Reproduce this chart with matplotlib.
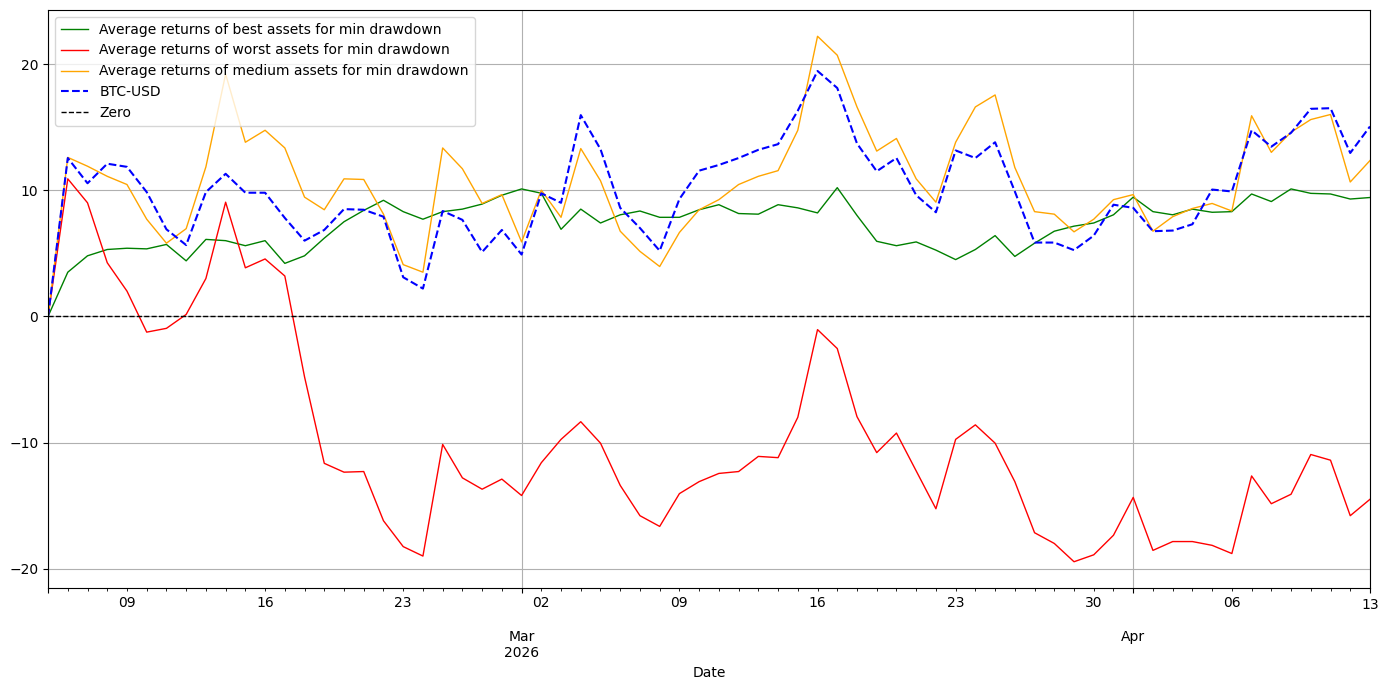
import numpy as np
import pandas as pd
from matplotlib import pyplot as plt

dates = pd.date_range("2026-02-05", "2026-04-13", freq="D", name="Date")

best = [0.0, 3.5, 4.8, 5.3, 5.4, 5.35, 5.7, 4.4, 6.1, 6.0, 5.6, 6.0,
        4.2, 4.8, 6.2, 7.5, 8.4, 9.2, 8.3, 7.7, 8.3, 8.5, 8.9, 9.6,
        10.1, 9.76, 6.9, 8.5, 7.4, 8.05, 8.35, 7.85, 7.85, 8.45, 8.85, 8.15,
        8.1, 8.85, 8.6, 8.2, 10.2, 8.0, 5.95, 5.6, 5.9, 5.25, 4.5, 5.3,
        6.4, 4.75, 5.8, 6.75, 7.15, 7.4, 8.05, 9.45, 8.3, 8.05, 8.5, 8.25,
        8.3, 9.7, 9.1, 10.1, 9.75, 9.7, 9.3, 9.42]

worst = [0.0, 10.9, 9.0, 4.25, 2.0, -1.25, -0.95, 0.15, 3.0, 9.05, 3.85, 4.55,
         3.2, -4.8, -11.65, -12.35, -12.3, -16.2, -18.25, -19.0, -10.15, -12.8, -13.7, -12.9,
         -14.2, -11.6, -9.75, -8.35, -10.05, -13.4, -15.8, -16.65, -14.05, -13.1, -12.45, -12.3,
         -11.1, -11.2, -8.0, -1.05, -2.55, -7.95, -10.8, -9.25, -12.25, -15.25, -9.75, -8.6,
         -10.05, -13.1, -17.15, -18.0, -19.45, -18.9, -17.35, -14.35, -18.55, -17.85, -17.85, -18.15,
         -18.8, -12.65, -14.85, -14.1, -10.95, -11.4, -15.8, -14.5]

medium = [0.0, 12.6, 11.9, 11.1, 10.45, 7.7, 5.8, 6.95, 11.85, 19.2, 13.8, 14.75,
          13.35, 9.45, 8.45, 10.9, 10.85, 8.1, 4.1, 3.5, 13.35, 11.7, 8.95, 9.65,
          5.9, 10.0, 7.85, 13.3, 10.75, 6.75, 5.15, 3.95, 6.65, 8.45, 9.25, 10.45,
          11.1, 11.55, 14.75, 22.2, 20.7, 16.6, 13.1, 14.1, 10.9, 9.05, 13.8, 16.6,
          17.55, 11.8, 8.3, 8.1, 6.7, 7.7, 9.25, 9.65, 6.75, 7.9, 8.55, 8.95,
          8.35, 15.9, 13.0, 14.6, 15.6, 16.0, 10.65, 12.35]

btc = [0.0, 12.55, 10.55, 12.1, 11.85, 9.85, 6.9, 5.65, 9.85, 11.3, 9.8, 9.8,
       7.8, 6.0, 6.85, 8.5, 8.45, 7.9, 3.1, 2.2, 8.35, 7.65, 5.1, 6.85,
       4.9, 9.75, 9.0, 15.95, 13.25, 8.6, 7.0, 5.2, 9.3, 11.55, 12.0, 12.55,
       13.2, 13.65, 16.3, 19.45, 18.1, 13.7, 11.5, 12.55, 9.6, 8.25, 13.15, 12.55,
       13.8, 9.9, 5.85, 5.85, 5.25, 6.4, 8.85, 8.6, 6.75, 6.8, 7.3, 10.05,
       9.9, 14.75, 13.45, 14.55, 16.45, 16.5, 12.95, 15.05]

df = pd.DataFrame({
    "Average returns of best assets for min drawdown": best,
    "Average returns of worst assets for min drawdown": worst,
    "Average returns of medium assets for min drawdown": medium,
}, index=dates)
btc_s = pd.Series(btc, index=dates, name="BTC-USD")

fig = plt.figure(figsize=(13.89, 6.9), dpi=100)
ax = fig.add_axes([0.0346, 0.1478, 0.9517, 0.8377])

df.plot(ax=ax, color=["green", "red", "orange"], linewidth=1)
btc_s.plot(ax=ax, color="blue", linestyle="--", linewidth=1.5)
ax.axhline(0, color="black", linestyle="--", linewidth=1, label="Zero")

ax.legend(loc="upper left")
ax.grid(True)
ax.set_xlabel("Date")

plt.savefig("out.png")
